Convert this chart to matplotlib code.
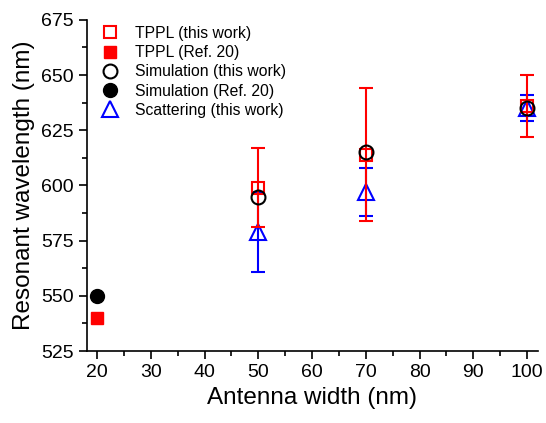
import matplotlib.pyplot as plt
from matplotlib.ticker import MultipleLocator
from matplotlib.lines import Line2D

plt.rcParams['font.family'] = ['Liberation Sans', 'DejaVu Sans']

# TPPL (this work)
tpplWidth = [50, 70, 100]
tpplWave = [599, 614, 636]
tpplErr = [18, 30, 14]

# TPPL (Ref. 20)
tpplRefWidth = [20]
tpplRefWave = [540]

# Simulation (this work)
simWidth = [50, 70, 100]
simWave = [595, 615, 635]

# Simulation (Ref. 20)
simRefWidth = [20]
simRefWave = [550]

# Scattering (this work)
scatWidth = [50, 70, 100]
scatWave = [579, 597, 635]
scatErr = [18, 11, 6]

labels = ['TPPL (this work)', 'TPPL (Ref. 20)', 'Simulation (this work)',
          'Simulation (Ref. 20)', 'Scattering (this work)']

fig = plt.figure(figsize=(5.46, 4.23), dpi=100)
ax = fig.add_axes([0.159, 0.170, 0.826, 0.783])

ax.errorbar(tpplWidth, tpplWave, yerr=tpplErr, fmt='s', color='red', mfc='none',
            mec='red', ms=9, mew=1.5, elinewidth=1.5, capsize=5, capthick=1.5, zorder=3)
ax.plot(tpplRefWidth, tpplRefWave, 's', color='red', ms=9)
ax.plot(simWidth, simWave, 'o', mfc='none', mec='black', ms=10, mew=1.5, zorder=4)
ax.plot(simRefWidth, simRefWave, 'o', color='black', ms=10)
ax.errorbar(scatWidth, scatWave, yerr=scatErr, fmt='^', color='blue', mfc='none',
            mec='blue', ms=11, mew=1.5, elinewidth=1.5, capsize=5, capthick=1.5, zorder=2)

ax.set_xlim(18.1, 102)
ax.set_ylim(525, 675)
ax.xaxis.set_major_locator(MultipleLocator(10))
ax.xaxis.set_minor_locator(MultipleLocator(5))
ax.yaxis.set_major_locator(MultipleLocator(25))
ax.yaxis.set_minor_locator(MultipleLocator(12.5))
ax.tick_params(which='major', direction='out', length=6, width=1.2, labelsize=14)
ax.tick_params(which='minor', direction='out', length=3.5, width=1.2)
for s in ['top', 'right']:
    ax.spines[s].set_visible(False)
for s in ['left', 'bottom']:
    ax.spines[s].set_linewidth(1.2)

ax.set_xlabel('Antenna width (nm)', fontsize=17.5)
ax.set_ylabel('Resonant wavelength (nm)', fontsize=17.5)

leg_h = [
    Line2D([], [], marker='s', ls='none', mfc='none', mec='red', ms=9, mew=1.5),
    Line2D([], [], marker='s', ls='none', color='red', ms=9),
    Line2D([], [], marker='o', ls='none', mfc='none', mec='black', ms=10, mew=1.5),
    Line2D([], [], marker='o', ls='none', color='black', ms=10),
    Line2D([], [], marker='^', ls='none', mfc='none', mec='blue', ms=11, mew=1.5),
]
ax.legend(leg_h, labels, loc='upper left', bbox_to_anchor=(0.01, 1.01), frameon=False,
          fontsize=11.3, handlelength=1.2, handletextpad=1.0, labelspacing=0.27,
          borderaxespad=0.2)

plt.savefig('out.png', dpi=100)
